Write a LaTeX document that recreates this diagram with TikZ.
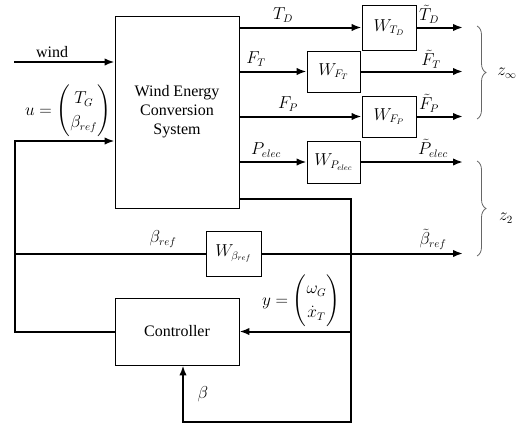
\documentclass[tikz,border=0pt]{standalone}
\usepackage{amsmath}
\usepackage{fontspec}
\setmainfont{Liberation Serif}
\usetikzlibrary{positioning,decorations.pathreplacing,arrows.meta}

\begin{document}
\begin{tikzpicture}[x=1pt,y=-1pt,font=\fontsize{16}{19}\selectfont]
\tikzstyle{main}=[rectangle, draw=black, line width=0.9pt, inner sep=0pt]
\tikzstyle{connect}=[-{Latex[length=10pt,width=7.5pt]}, line width=2pt]
\tikzstyle{wire}=[line width=2pt]
\tikzstyle{lbl}=[inner sep=1pt]
\tikzstyle{brace}=[decorate, decoration={brace, amplitude=9pt}, draw=black!60, line width=0.8pt]
\renewcommand{\arraystretch}{1.25}
\useasboundingbox (0,0) rectangle (521,423);
% blocks
\node[main, minimum width=124pt, minimum height=192pt, align=center] (wecs) at (177,112) {Wind Energy\\Conversion\\System};
\node[main, minimum width=124pt, minimum height=67pt] (ctrl) at (177,331.5) {Controller};
\node[main, minimum width=54pt, minimum height=45pt] (wtd) at (389,27.5) {$W_{T_D}$};
\node[main, minimum width=53pt, minimum height=41pt] (wft) at (333.5,71.5) {$W_{F_T}$};
\node[main, minimum width=54pt, minimum height=41pt] (wfp) at (389,116.5) {$W_{F_P}$};
\node[main, minimum width=53pt, minimum height=42pt] (wpe) at (333.5,162) {$W_{P_{elec}}$};
\node[main, minimum width=55pt, minimum height=45pt] (wbeta) at (233.5,253.5) {$W_{\beta_{ref}}$};
% free ends and corners
\coordinate (windin) at (14,62);
\coordinate (ubus) at (15,141);
\coordinate (ztd) at (463,27.5);
\coordinate (zft) at (463,71.5);
\coordinate (zfp) at (463,116.5);
\coordinate (zpe) at (463,162);
\coordinate (zbeta) at (463,253.5);
\coordinate (turn1) at (351,199);
\coordinate (turn2) at (351,421.5);
\coordinate (bfeed) at (183,421.5);
% signals
\draw[connect] (windin) -- (wecs.west |- windin);
\draw[connect] (ctrl.west) -- (ctrl.west -| ubus) -- (ubus) -- (wecs.west |- ubus);
\draw[wire] (ubus |- wbeta) -- (wbeta);
\draw[connect] (wbeta) -- (zbeta);
\draw[connect] (wecs.east |- wtd) -- (wtd);
\draw[connect] (wtd) -- (ztd);
\draw[connect] (wecs.east |- wft) -- (wft);
\draw[connect] (wft) -- (zft);
\draw[connect] (wecs.east |- wfp) -- (wfp);
\draw[connect] (wfp) -- (zfp);
\draw[connect] (wecs.east |- wpe) -- (wpe);
\draw[connect] (wpe) -- (zpe);
\draw[connect] (wecs.east |- turn1) -- (turn1) -- (turn2) -- (bfeed) -- (bfeed |- ctrl.south);
\draw[connect] (turn1 |- ctrl) -- (ctrl);
% labels
\node[lbl] (lwind) at (52,52) {wind};
\node[lbl] (lu) at (68,111) {$u=\begin{pmatrix}T_G\\ \beta_{ref}\end{pmatrix}$};
\node[lbl] (ly) at (301,301) {$y=\begin{pmatrix}\omega_G\\ \dot{x}_T\end{pmatrix}$};
\node[lbl] (lbeta) at (203,394) {$\beta$};
\node[lbl] (ltd) at (283,15) {$T_D$};
\node[lbl] (lft) at (256,59) {$F_T$};
\node[lbl] (lfp) at (288,104) {$F_P$};
\node[lbl] (lpe) at (266,150) {$P_{elec}$};
\node[lbl] (ltdt) at (429,14) {$\tilde{T}_D$};
\node[lbl] (lftt) at (431,59) {$\tilde{F}_T$};
\node[lbl] (lfpt) at (429,103) {$\tilde{F}_P$};
\node[lbl] (lpet) at (433,148) {$\tilde{P}_{elec}$};
\node[lbl] (lbr) at (163,239) {$\beta_{ref}$};
\node[lbl] (lbrt) at (433,239) {$\tilde{\beta}_{ref}$};
\draw[brace] (477,26) -- (477,119);
\draw[brace] (477,161) -- (477,256);
\node[lbl] (zinf) at (507,73) {$z_\infty$};
\node[lbl] (ztwo) at (506,218) {$z_2$};
\end{tikzpicture}
\end{document}
